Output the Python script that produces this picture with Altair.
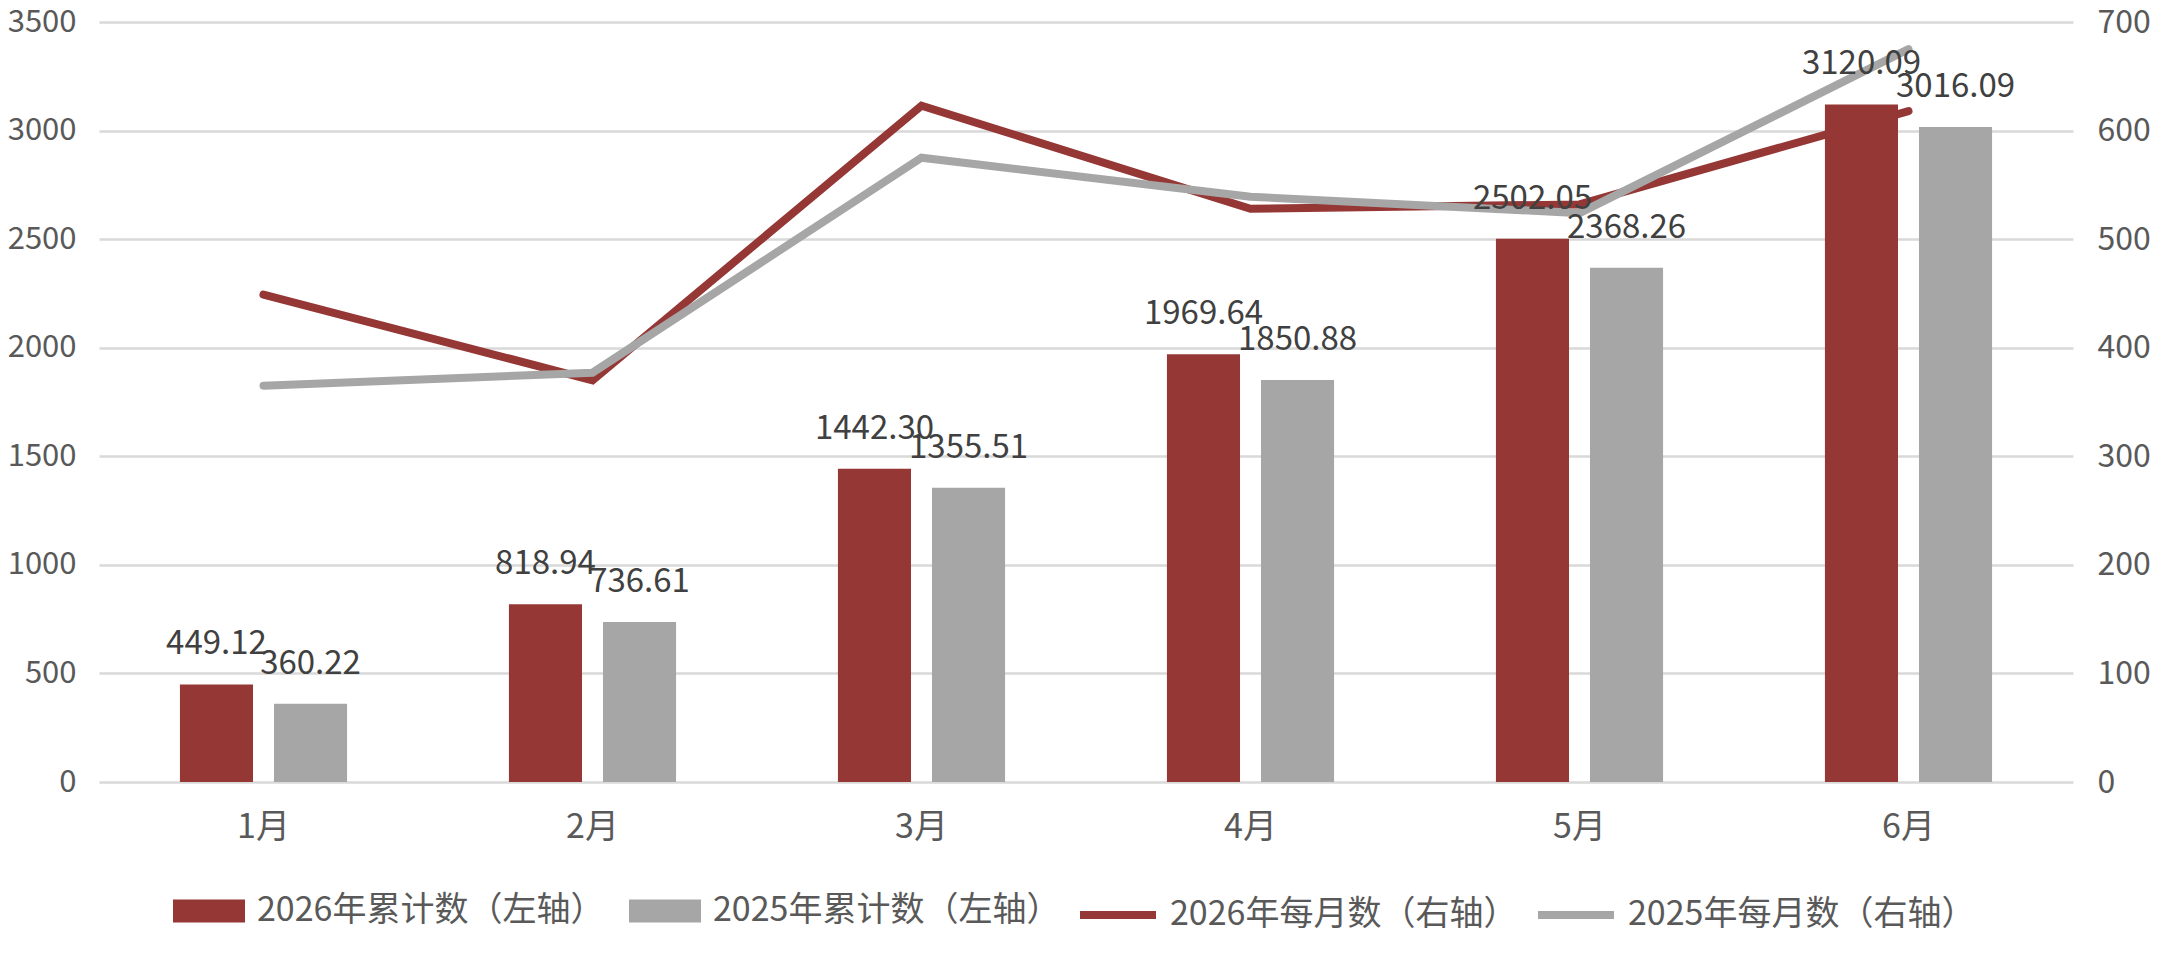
import altair as alt
import pandas as pd

months = ["1月", "2月", "3月", "4月", "5月", "6月"]
cum_2026 = [449.12, 818.94, 1442.30, 1969.64, 2502.05, 3120.09]
cum_2025 = [360.22, 736.61, 1355.51, 1850.88, 2368.26, 3016.09]
mon_2026 = [449, 370, 623, 528, 532, 618]
mon_2025 = [365, 377, 575, 539, 524, 675]
bar_names = ["2026年累计数（左轴）", "2025年累计数（左轴）"]
line_names = ["2026年每月数（右轴）", "2025年每月数（右轴）"]
left_ticks = [0, 500, 1000, 1500, 2000, 2500, 3000, 3500]
right_ticks = [0, 100, 200, 300, 400, 500, 600, 700]

RED = "#953735"
GRAY = "#a6a6a6"
FONT = "Noto Sans CJK SC"
AXIS_COLOR = "#595959"

bars_df = pd.DataFrame({
    "month": months * 2,
    "series": [bar_names[0]] * len(months) + [bar_names[1]] * len(months),
    "value": cum_2026 + cum_2025,
})
lines_df = pd.DataFrame({
    "month": months * 2,
    "series": [line_names[0]] * len(months) + [line_names[1]] * len(months),
    "value": mon_2026 + mon_2025,
})

x_enc = alt.X(
    "month:N",
    sort=months,
    scale=alt.Scale(domain=months, paddingInner=0.492, paddingOuter=0.246),
    axis=alt.Axis(title=None, labelAngle=0, domain=False, ticks=False,
                  labelPadding=28, labelFontSize=34, labelFont=FONT,
                  labelColor=AXIS_COLOR),
)
xoff_enc = alt.XOffset("series:N",
                       scale=alt.Scale(domain=bar_names, paddingInner=0.223, paddingOuter=0))

bars = alt.Chart(bars_df).mark_bar().encode(
    x=x_enc,
    xOffset=xoff_enc,
    y=alt.Y("value:Q",
            scale=alt.Scale(domain=[0, 3500], nice=False),
            axis=alt.Axis(orient="left", values=left_ticks, format="d", title=None, grid=True,
                          gridColor="#d9d9d9", gridWidth=2.5, domain=False, ticks=False,
                          labelPadding=23, labelFontSize=31, labelFont=FONT,
                          labelColor=AXIS_COLOR)),
    color=alt.Color("series:N",
                    scale=alt.Scale(domain=bar_names, range=[RED, GRAY]),
                    legend=alt.Legend(title=None, orient="none", legendX=74, legendY=853,
                                      direction="horizontal",
                                      symbolType="M-1,-0.32L1,-0.32L1,0.32L-1,0.32Z",
                                      symbolSize=5184, symbolStrokeWidth=0,
                                      labelFontSize=34, labelFont=FONT,
                                      labelColor=AXIS_COLOR, labelOffset=12,
                                      columnPadding=24, padding=0, labelLimit=1000)),
)

lines = alt.Chart(lines_df).mark_line(strokeWidth=8, strokeCap="round").encode(
    x=x_enc,
    y=alt.Y("value:Q",
            scale=alt.Scale(domain=[0, 700], nice=False),
            axis=alt.Axis(orient="right", values=right_ticks, format="d", title=None, grid=False,
                          domain=False, ticks=False, labelPadding=24, labelFontSize=32,
                          labelFont=FONT, labelColor=AXIS_COLOR)),
    stroke=alt.Stroke("series:N",
                      scale=alt.Scale(domain=line_names, range=[RED, GRAY]),
                      legend=alt.Legend(title=None, orient="none", legendX=977, legendY=851,
                                        direction="horizontal", symbolType="stroke",
                                        symbolSize=5776, symbolStrokeWidth=8,
                                        labelFontSize=34, labelFont=FONT,
                                        labelColor=AXIS_COLOR, labelOffset=10,
                                        columnPadding=4, padding=0, labelLimit=1000)),
)

labels = alt.Chart(bars_df).mark_text(
    dy=-30, baseline="alphabetic", align="center", fontSize=33, font=FONT, color="#404040"
).encode(
    x=x_enc,
    xOffset=xoff_enc,
    y=alt.Y("value:Q", scale=alt.Scale(domain=[0, 3500], nice=False), axis=None),
    text=alt.Text("value:Q", format=".2f"),
)

chart = alt.layer(bars, lines, labels).resolve_scale(
    y="independent", color="independent", stroke="independent"
).properties(
    width=1974,
    height=760,
    autosize=alt.AutoSizeParams(type="none"),
    padding={"left": 91, "top": 14, "right": 80, "bottom": 165},
).configure_view(stroke=None)

chart.save("out.html", embed_options={"renderer": "svg", "actions": False})
